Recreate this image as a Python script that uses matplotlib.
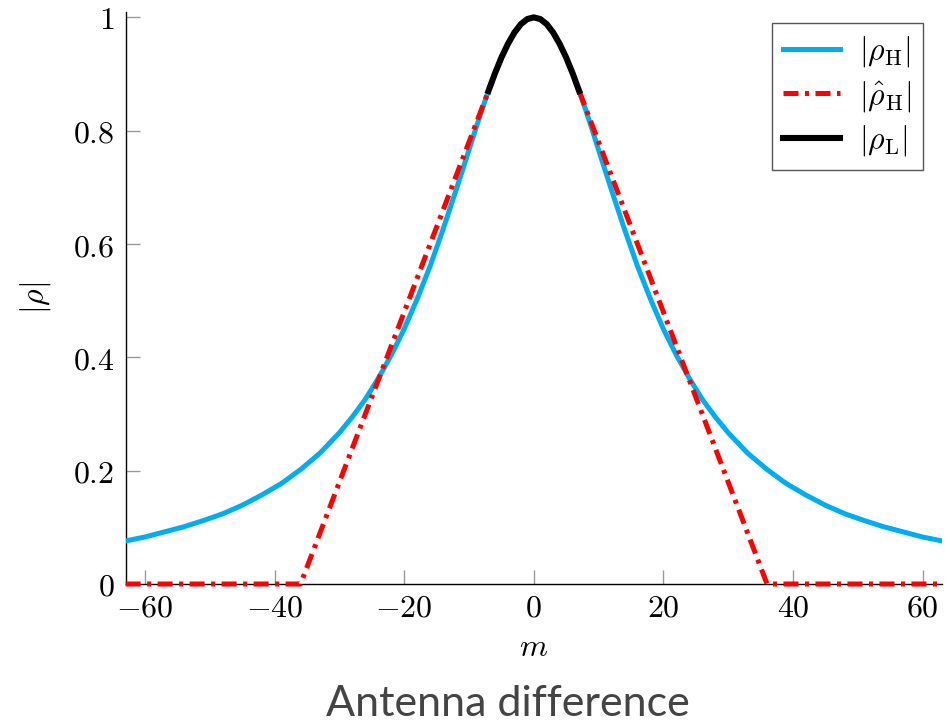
import matplotlib
matplotlib.use("Agg")
import matplotlib.pyplot as plt

plt.rcParams["mathtext.fontset"] = "cm"
plt.rcParams["font.family"] = ["DejaVu Serif"]

# |rho_H| (m, value)
m_h = [-63, -60, -57, -54, -51, -48, -45, -42, -39, -36, -33, -30, -28, -26, -24, -22, -20,
       -18, -16, -14, -12, -10, -9, -8, -7, -6, -5, -4, -3, -2, -1, 0,
       1, 2, 3, 4, 5, 6, 7, 8, 9, 10, 12, 14, 16, 18, 20, 22, 24, 26, 28, 30,
       33, 36, 39, 42, 45, 48, 51, 54, 57, 60, 63]
rho_h = [0.076, 0.083, 0.092, 0.101, 0.112, 0.124, 0.139, 0.157, 0.177, 0.202, 0.231, 0.267,
         0.295, 0.326, 0.363, 0.404, 0.450, 0.503, 0.561, 0.626, 0.695, 0.766, 0.802, 0.837,
         0.870, 0.901, 0.929, 0.953, 0.973, 0.988, 0.997, 1.000,
         0.997, 0.988, 0.973, 0.953, 0.929, 0.901, 0.870, 0.837, 0.802, 0.766, 0.695, 0.626,
         0.561, 0.503, 0.450, 0.404, 0.363, 0.326, 0.295, 0.267, 0.231, 0.202, 0.177, 0.157,
         0.139, 0.124, 0.112, 0.101, 0.092, 0.083, 0.076]

# estimated |rho_H| hat, left and right branch
m_hat_left = [-63, -36, -7]
rho_hat_left = [0.0, 0.0, 0.87]
m_hat_right = [7, 36, 63]
rho_hat_right = [0.87, 0.0, 0.0]

# |rho_L| (central part)
m_l = [-7, -6, -5, -4, -3, -2, -1, 0, 1, 2, 3, 4, 5, 6, 7]
rho_l = [0.870, 0.901, 0.929, 0.953, 0.973, 0.988, 0.997, 1.000,
         0.997, 0.988, 0.973, 0.953, 0.929, 0.901, 0.870]

x_ticks = [-60, -40, -20, 0, 20, 40, 60]
y_ticks = [0, 0.2, 0.4, 0.6, 0.8, 1]
y_tick_labels = ["0", "0.2", "0.4", "0.6", "0.8", "1"]

fig = plt.figure(figsize=(9.46, 7.24), dpi=100)
ax = fig.add_axes([125.6 / 946, 1 - 584 / 724, (942 - 125.6) / 946, (584 - 11.7) / 724])

ax.plot(m_h, rho_h, color="#00aeef", lw=3.6, label=r"$|\rho_{\mathrm{H}}|$", zorder=3)
red_style = dict(color="red", lw=3.6, dashes=(3.0, 1.3, 0.8, 1.3), dash_capstyle="butt",
                 clip_on=False, zorder=4)
ax.plot(m_hat_left, rho_hat_left, label=r"$|\hat{\rho}_{\mathrm{H}}|$", **red_style)
ax.plot(m_hat_right, rho_hat_right, **red_style)
ax.plot(m_l, rho_l, color="black", lw=4.4, label=r"$|\rho_{\mathrm{L}}|$", zorder=5)

ax.set_xlim(-63, 63)
ax.set_ylim(0, 1.01)
ax.set_xticks(x_ticks)
ax.set_xticklabels(["$%d$" % t if t >= 0 else "$-%d$" % -t for t in x_ticks])
ax.set_yticks(y_ticks)
ax.set_yticklabels(["$%s$" % s for s in y_tick_labels])
ax.tick_params(direction="in", length=10, width=1, color="#999999", labelsize=23)
ax.tick_params(axis="x", pad=6)
ax.tick_params(axis="y", pad=8)
for s in ["top", "right"]:
    ax.spines[s].set_visible(False)
for s in ["left", "bottom"]:
    ax.spines[s].set_linewidth(1.0)

ax.set_xlabel("$m$", fontsize=23, labelpad=6)
ax.set_ylabel(r"$|\rho|$", fontsize=23, labelpad=14)

leg = ax.legend(loc="upper right", bbox_to_anchor=(0.977, 0.98), borderaxespad=0,
                fontsize=23, fancybox=False, edgecolor="#555555", framealpha=1,
                handlelength=1.8, handletextpad=0.6, labelspacing=0.3, borderpad=0.35)
leg.get_frame().set_linewidth(1.0)

fig.text(508 / 946, 1 - 716 / 724, "Antenna difference", ha="center", va="baseline",
         fontsize=31, color="#444444", family=["Lato", "DejaVu Sans"])

fig.savefig("out.png", dpi=100)
